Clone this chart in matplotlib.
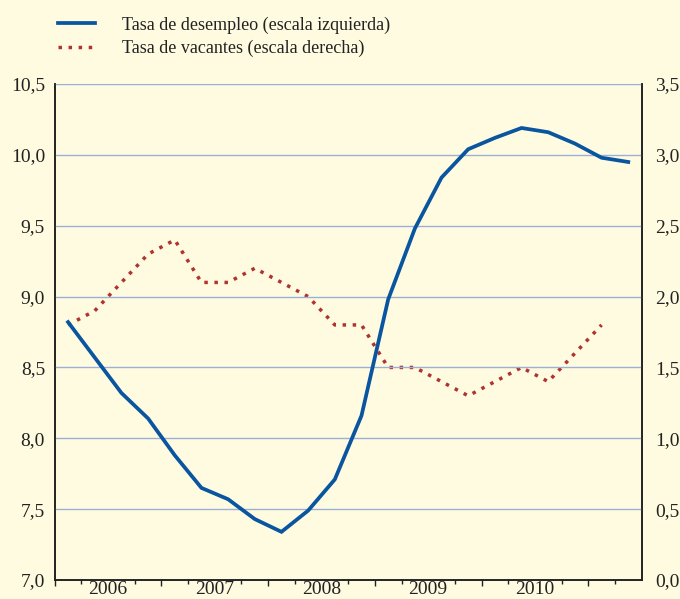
import numpy as np
import matplotlib.pyplot as plt
from matplotlib.ticker import FixedLocator, FuncFormatter

# quarterly data, 2006Q1 .. 2011Q2
desempleo = [8.82, 8.57, 8.32, 8.14,
             7.88, 7.65, 7.57, 7.43,
             7.34, 7.49, 7.71, 8.16,
             8.98, 9.48, 9.84, 10.04,
             10.12, 10.19, 10.16, 10.08,
             9.98, 9.95]
vacantes = [1.8, 1.9, 2.1, 2.3,
            2.4, 2.1, 2.1, 2.2,
            2.1, 2.0, 1.8, 1.8,
            1.5, 1.5, 1.4, 1.3,
            1.4, 1.5, 1.4, 1.6,
            1.8]
years = [2006, 2007, 2008, 2009, 2010]
label_desempleo = "Tasa de desempleo (escala izquierda)"
label_vacantes = "Tasa de vacantes (escala derecha)"

# quarter midpoints
x_des = 2006.125 + 0.25 * np.arange(len(desempleo))
x_vac = 2006.125 + 0.25 * np.arange(len(vacantes))

bg = "#FFFBE0"
txt = "#222222"
plt.rcParams['font.family'] = ['Liberation Serif', 'DejaVu Serif']
plt.rcParams['font.size'] = 14

fig = plt.figure(figsize=(6.8, 5.99), dpi=100, facecolor=bg)
ax = fig.add_axes([0.0805, 0.0317, 0.863, 0.828])
ax2 = ax.twinx()
ax.set_zorder(ax2.get_zorder() + 1)
ax.patch.set_visible(False)
ax2.patch.set_facecolor(bg)

l2, = ax2.plot(x_vac, vacantes, color="#B0332F", lw=2.5,
               linestyle=(0, (1, 1.9)), dash_capstyle='butt',
               label=label_vacantes)
l1, = ax.plot(x_des, desempleo, color="#0A55A0", lw=2.7,
              solid_joinstyle='miter', label=label_desempleo)

ax.set_xlim(2006.0, 2011.5)
ax.set_ylim(7.0, 10.5)
ax2.set_ylim(0.0, 3.5)

comma = FuncFormatter(lambda v, p: f"{v:.1f}".replace(".", ","))
ax.set_yticks(np.arange(7.0, 10.51, 0.5))
ax2.set_yticks(np.arange(0.0, 3.51, 0.5))
ax.yaxis.set_major_formatter(comma)
ax2.yaxis.set_major_formatter(comma)
ax.tick_params(axis='y', length=0, pad=7, colors=txt)
ax2.tick_params(axis='y', length=0, pad=10, colors=txt)

ax.grid(axis='y', color="#9BAFD8", lw=1.0)
ax.set_axisbelow(True)

# year labels at mid-year, ticks at year starts and quarters
ax.set_xticks([y + 0.5 for y in years])
ax.set_xticklabels([str(y) for y in years])
ax.tick_params(axis='x', length=0, pad=1, colors=txt)
quarters = [y + q for y in range(2006, 2012) for q in (0.25, 0.75)]
ax.xaxis.set_minor_locator(FixedLocator([q for q in quarters if q < 2011.5]))
ax.tick_params(axis='x', which='minor', length=3, width=1, color=txt)
sec = ax.secondary_xaxis('bottom')
sec.set_xticks(list(range(2006, 2012)))
sec.set_xticklabels([])
sec.tick_params(length=4.5, width=1, color=txt)
sec.spines['bottom'].set_visible(False)

for a in (ax, ax2):
    a.spines['top'].set_visible(False)
    for s in ('left', 'right', 'bottom'):
        a.spines[s].set_color(txt)
        a.spines[s].set_linewidth(1.2)

fig.legend(handles=[l1, l2], loc='upper left', bbox_to_anchor=(0.062, 1.0),
           frameon=False, handlelength=2.05, handletextpad=1.45,
           labelspacing=0.35, fontsize=13, labelcolor=txt)

fig.savefig("out.png", dpi=100, facecolor=bg)
